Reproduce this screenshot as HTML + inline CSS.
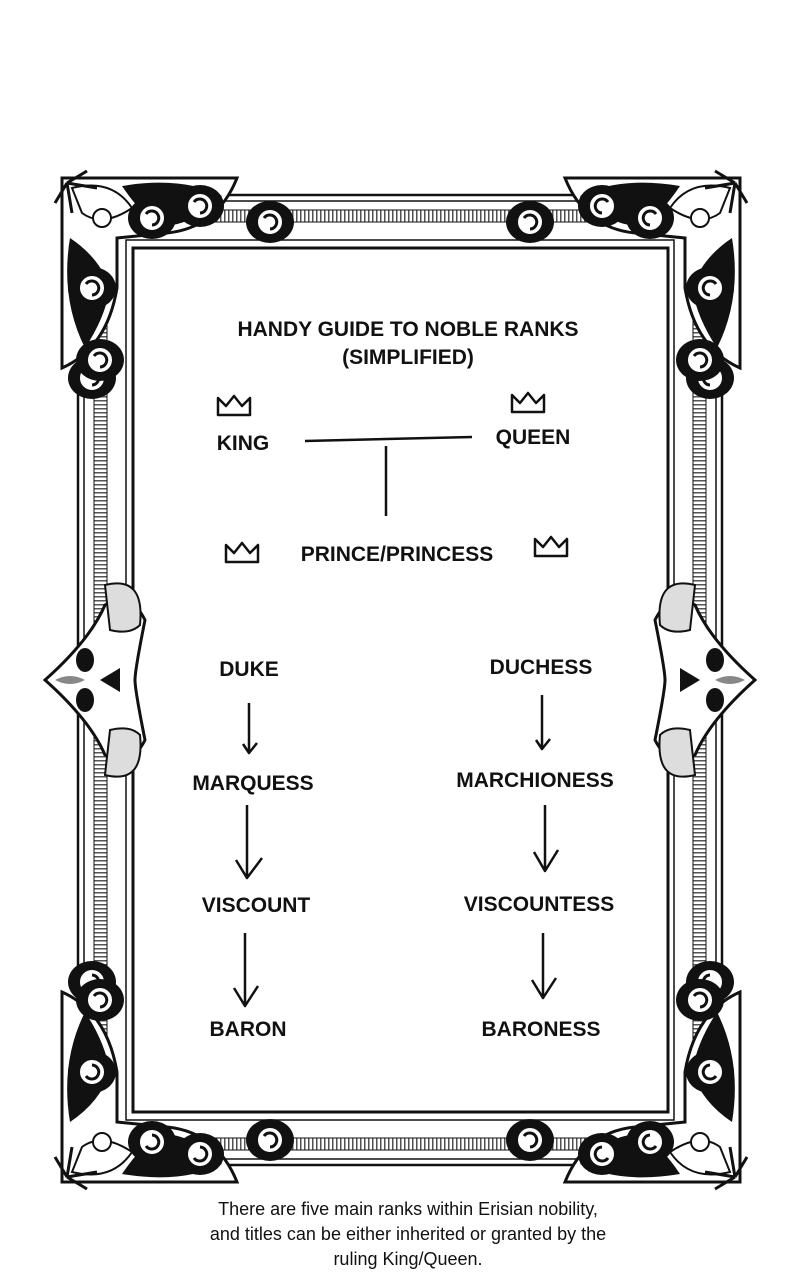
<!DOCTYPE html>
<html><head><meta charset="utf-8"><style>
html,body{margin:0;padding:0;background:#fff}
svg{display:block}
text{font-family:"Liberation Sans",sans-serif;fill:#111;font-weight:bold}
</style></head><body>
<svg width="800" height="1280" viewBox="0 0 800 1280" xmlns="http://www.w3.org/2000/svg">
<defs>
<pattern id="rul" width="4" height="4" patternUnits="userSpaceOnUse"><rect width="4" height="4" fill="#fff"/><rect width="1.5" height="4" fill="#555"/></pattern>
<pattern id="rulv" width="4" height="4" patternUnits="userSpaceOnUse"><rect width="4" height="4" fill="#fff"/><rect width="4" height="1.5" fill="#555"/></pattern>
<g id="swirl">
<ellipse cx="0" cy="0" rx="24" ry="21" fill="#111"/>
<circle cx="0" cy="0" r="13" fill="#fff" stroke="#111" stroke-width="2"/>
<path d="M-6,-4 a7,7 0 1 1 6,11" stroke="#111" stroke-width="3" fill="none"/>
</g>
<g id="corner">
<path d="M0,0 L175,0 q-20,50 -70,55 L55,60 L55,110 q-10,60 -55,80z" fill="#fff" stroke="#111" stroke-width="3"/>
<path d="M10,10 q40,-10 60,20 q-30,20 -50,5z" fill="#fff" stroke="#111" stroke-width="2"/>
<path d="M60,8 q60,-10 100,10 q-30,30 -60,30 q-20,-10 -40,-40z" fill="#111"/>
<path d="M8,60 q-10,60 15,110 q20,-30 25,-60 q-10,-30 -40,-50z" fill="#111"/>
<use href="#swirl" x="138" y="28"/>
<use href="#swirl" x="30" y="200"/>
<use href="#swirl" x="90" y="40"/>
<use href="#swirl" x="30" y="110"/>
<circle cx="40" cy="40" r="9" fill="#fff" stroke="#111" stroke-width="2"/>
<path d="M5,5 l20,-12 M5,5 l-12,20 M5,5 l30,5 M5,5 l5,30" stroke="#111" stroke-width="3"/>
</g>
<g id="side">
<path d="M0,0 q45,-40 60,-75 q25,-15 40,15 q-10,50 -10,60 q0,10 10,60 q-15,30 -40,15 q-15,-35 -60,-75z" fill="#fff" stroke="#111" stroke-width="3"/>
<path d="M60,-95 q40,-10 35,40 q-10,10 -30,5z" fill="#ddd" stroke="#111" stroke-width="2"/>
<path d="M60,95 q40,10 35,-40 q-10,-10 -30,-5z" fill="#ddd" stroke="#111" stroke-width="2"/>
<ellipse cx="40" cy="-20" rx="9" ry="12" fill="#111"/>
<ellipse cx="40" cy="20" rx="9" ry="12" fill="#111"/>
<path d="M55,0 l20,-12 l0,24z" fill="#111"/>
<path d="M10,0 q15,-8 30,0 q-15,8 -30,0z" fill="#888"/>
</g>
</defs>
<!-- frame band -->
<rect x="78" y="195" width="644" height="970" fill="#fff" stroke="#111" stroke-width="2.5"/>
<rect x="84" y="201" width="632" height="958" fill="none" stroke="#111" stroke-width="1.5"/>
<rect x="94" y="210" width="13" height="940" fill="url(#rulv)" stroke="#111" stroke-width="1"/>
<rect x="693" y="210" width="13" height="940" fill="url(#rulv)" stroke="#111" stroke-width="1"/>
<rect x="120" y="210" width="560" height="12" fill="url(#rul)" stroke="#111" stroke-width="1"/>
<rect x="120" y="1138" width="560" height="12" fill="url(#rul)" stroke="#111" stroke-width="1"/>
<rect x="126" y="240" width="548" height="880" fill="none" stroke="#111" stroke-width="1.5"/>
<rect x="133" y="248" width="535" height="864" fill="#fff" stroke="#111" stroke-width="3"/>
<!-- corners -->
<use href="#corner" x="62" y="178"/>
<use href="#corner" transform="translate(740,178) scale(-1,1)"/>
<use href="#corner" transform="translate(62,1182) scale(1,-1)"/>
<use href="#corner" transform="translate(740,1182) scale(-1,-1)"/>
<use href="#swirl" x="100" y="360"/><use href="#swirl" x="700" y="360"/>
<use href="#swirl" x="100" y="1000"/><use href="#swirl" x="700" y="1000"/>
<use href="#swirl" x="270" y="222"/><use href="#swirl" x="530" y="222"/>
<use href="#swirl" x="270" y="1140"/><use href="#swirl" x="530" y="1140"/>
<!-- side ornaments -->
<use href="#side" x="45" y="680"/>
<use href="#side" transform="translate(755,680) scale(-1,1)"/>
<!-- content -->
<g font-size="21" text-anchor="middle">
<text x="408" y="336">HANDY GUIDE TO NOBLE RANKS</text>
<text x="408" y="364">(SIMPLIFIED)</text>
<text x="243" y="450">KING</text>
<text x="533" y="444">QUEEN</text>
<text x="397" y="561">PRINCE/PRINCESS</text>
<text x="249" y="676">DUKE</text>
<text x="541" y="674">DUCHESS</text>
<text x="253" y="790">MARQUESS</text>
<text x="535" y="787">MARCHIONESS</text>
<text x="256" y="912">VISCOUNT</text>
<text x="539" y="911">VISCOUNTESS</text>
<text x="248" y="1036">BARON</text>
<text x="541" y="1036">BARONESS</text>
</g>
<g fill="none" stroke="#111" stroke-width="2.5" stroke-linejoin="round">
<path d="M218,415 l0,-17 l8,8 l8,-10 l8,10 l8,-8 l0,17z"/>
<path d="M512,412 l0,-17 l8,8 l8,-10 l8,10 l8,-8 l0,17z"/>
<path d="M226,562 l0,-17 l8,8 l8,-10 l8,10 l8,-8 l0,17z"/>
<path d="M535,556 l0,-17 l8,8 l8,-10 l8,10 l8,-8 l0,17z"/>
<path d="M305,441 L472,437"/>
<path d="M386,446 L386,516"/>
<path d="M249,703 L249,752 M243,744 L249,753 L257,743"/>
<path d="M542,695 L542,748 M536,740 L542,749 L550,739"/>
<path d="M247,805 L247,877 M236,860 L247,878 L262,858"/>
<path d="M545,805 L545,870 M534,852 L545,871 L558,850"/>
<path d="M245,933 L245,1005 M234,988 L245,1006 L258,986"/>
<path d="M543,933 L543,997 M532,980 L543,998 L556,978"/>
</g>
<g font-size="18" text-anchor="middle" font-weight="normal">
<text x="408" y="1215" style="font-weight:normal">There are five main ranks within Erisian nobility,</text>
<text x="408" y="1240" style="font-weight:normal">and titles can be either inherited or granted by the</text>
<text x="408" y="1265" style="font-weight:normal">ruling King/Queen.</text>
</g>
</svg>
</body></html>
